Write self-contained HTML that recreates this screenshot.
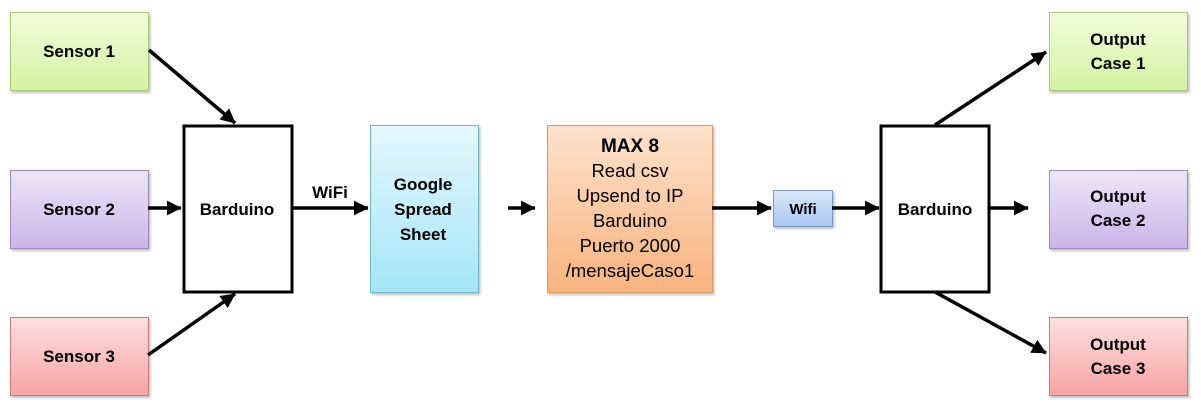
<!DOCTYPE html>
<html><head><meta charset="utf-8"><style>
html,body{margin:0;padding:0;background:#fff;width:1201px;height:407px;overflow:hidden}
text{font-family:"Liberation Sans",sans-serif;font-weight:bold;font-size:17px;fill:#000}
</style></head><body>
<svg width="1201" height="407" viewBox="0 0 1201 407" xmlns="http://www.w3.org/2000/svg">
<defs>
<linearGradient id="g" x1="0" y1="0" x2="0" y2="1"><stop offset="0" stop-color="#f2fcdc"/><stop offset="1" stop-color="#d2f3a0"/></linearGradient>
<linearGradient id="p" x1="0" y1="0" x2="0" y2="1"><stop offset="0" stop-color="#ede6f7"/><stop offset="1" stop-color="#c9b6ea"/></linearGradient>
<linearGradient id="r" x1="0" y1="0" x2="0" y2="1"><stop offset="0" stop-color="#fde0df"/><stop offset="1" stop-color="#f6a3a3"/></linearGradient>
<linearGradient id="b" x1="0" y1="0" x2="0" y2="1"><stop offset="0" stop-color="#e4f7fd"/><stop offset="1" stop-color="#a4e6f8"/></linearGradient>
<linearGradient id="o" x1="0" y1="0" x2="0" y2="1"><stop offset="0" stop-color="#fde2cc"/><stop offset="1" stop-color="#f8b37e"/></linearGradient>
<linearGradient id="w" x1="0" y1="0" x2="0" y2="1"><stop offset="0" stop-color="#dbe9fb"/><stop offset="1" stop-color="#a7c6f1"/></linearGradient>
<marker id="a" markerWidth="5" markerHeight="5" refX="4" refY="2.5" orient="auto" markerUnits="strokeWidth"><path d="M0,0.4 L4.2,2.5 L0,4.6 Z" fill="#000"/></marker>
<filter id="s" x="-5%" y="-5%" width="115%" height="115%"><feDropShadow dx="1.5" dy="2" stdDeviation="1.2" flood-color="#000" flood-opacity="0.25"/></filter>
</defs>
<g filter="url(#s)">
<rect x="10.5" y="12.5" width="138" height="78" fill="url(#g)" stroke="#a8c87a"/>
<rect x="10.5" y="170.5" width="138" height="78" fill="url(#p)" stroke="#9a88be"/>
<rect x="10.5" y="317.5" width="138" height="78" fill="url(#r)" stroke="#d07878"/>
<rect x="370.5" y="125.5" width="108" height="167" fill="url(#b)" stroke="#74b8cc"/>
<rect x="547.5" y="125.5" width="165" height="167" fill="url(#o)" stroke="#d69a6a"/>
<rect x="773.5" y="190.5" width="59" height="36" fill="url(#w)" stroke="#7b9bc8"/>
<rect x="1049.5" y="12.5" width="138" height="78" fill="url(#g)" stroke="#a8c87a"/>
<rect x="1049.5" y="170.5" width="138" height="78" fill="url(#p)" stroke="#9a88be"/>
<rect x="1049.5" y="317.5" width="138" height="78" fill="url(#r)" stroke="#d07878"/>
</g>
<rect x="184" y="126" width="108" height="166" fill="#fff" stroke="#000" stroke-width="3"/>
<rect x="881" y="126" width="108" height="166" fill="#fff" stroke="#000" stroke-width="3"/>
<g stroke="#000" stroke-width="3.5" fill="none" marker-end="url(#a)">
<line x1="149" y1="50" x2="235" y2="123"/>
<line x1="148" y1="208" x2="181" y2="208"/>
<line x1="148" y1="355" x2="235" y2="294"/>
<line x1="292" y1="208" x2="368" y2="208"/>
<line x1="508" y1="208" x2="535" y2="208"/>
<line x1="712" y1="208" x2="771" y2="208"/>
<line x1="832" y1="208" x2="879" y2="208"/>
<line x1="935" y1="125" x2="1046" y2="52"/>
<line x1="989" y1="208" x2="1028" y2="208"/>
<line x1="935" y1="292" x2="1046" y2="353"/>
</g>
<g text-anchor="middle">
<text x="79" y="57">Sensor 1</text>
<text x="79" y="215">Sensor 2</text>
<text x="79" y="362">Sensor 3</text>
<text x="237" y="215">Barduino</text>
<text x="330" y="198">WiFi</text>
<text x="423" y="190">Google</text>
<text x="423" y="215">Spread</text>
<text x="423" y="240">Sheet</text>
<text x="630" y="152" style="font-size:19px">MAX 8</text>
<text x="630" y="177" style="font-weight:normal;font-size:18.5px">Read csv</text>
<text x="630" y="202" style="font-weight:normal;font-size:18.5px">Upsend to IP</text>
<text x="630" y="227" style="font-weight:normal;font-size:18.5px">Barduino</text>
<text x="630" y="252" style="font-weight:normal;font-size:18.5px">Puerto 2000</text>
<text x="630" y="277" style="font-weight:normal;font-size:18.5px">/mensajeCaso1</text>
<text x="803" y="214" style="font-size:15px">Wifi</text>
<text x="935" y="215">Barduino</text>
<text x="1118" y="45">Output</text>
<text x="1118" y="69">Case 1</text>
<text x="1118" y="202">Output</text>
<text x="1118" y="226">Case 2</text>
<text x="1118" y="350">Output</text>
<text x="1118" y="374">Case 3</text>
</g>
</svg>
</body></html>
